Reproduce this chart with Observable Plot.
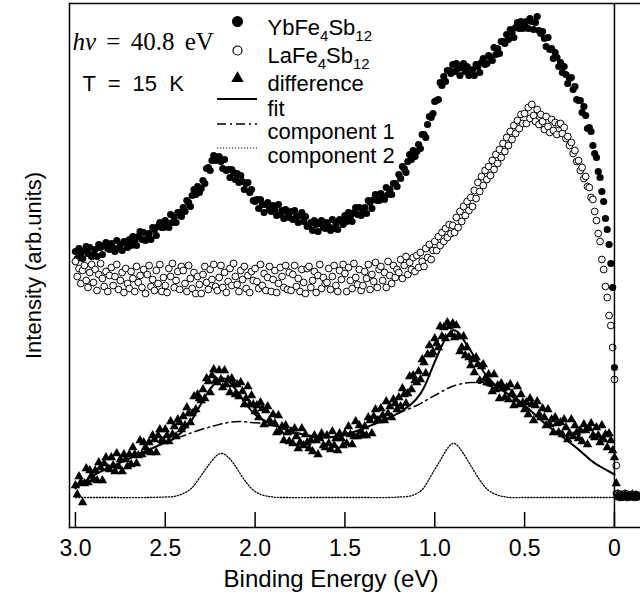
<!DOCTYPE html>
<html><head><meta charset="utf-8">
<script src="https://cdn.jsdelivr.net/npm/d3@7"></script>
<script src="https://cdn.jsdelivr.net/npm/@observablehq/plot@0.6"></script>
<style>
body{margin:0;background:#fff;}
#chart svg{display:block;}
</style></head><body><div id="chart"></div>
<script>
// Energy grid of the measurement (binding energy, eV): 3.00 down to -0.14 in 0.01 steps
const energyStart = 3.0;
const energyStep = 0.01;

// YbFe4Sb12 (filled circles), intensity in arbitrary units
const ybValues = [
276,269,279,274,269,277,281,274,280,271,
273,278,271,283,280,273,282,285,279,278,
284,280,276,287,279,283,277,286,285,280,
288,282,291,287,282,291,296,288,295,287,
289,294,288,300,298,292,301,305,300,300,
307,304,300,313,305,310,305,315,315,311,
320,316,327,325,321,332,338,333,341,335,
339,347,344,359,360,357,367,372,367,368,
371,366,359,368,357,358,350,358,355,348,
354,345,352,346,338,344,345,335,338,327,
326,328,319,328,323,315,323,325,318,316,
322,318,312,323,313,317,309,318,315,310,
316,308,317,311,305,312,315,306,311,301,
302,305,297,307,303,296,304,307,300,299,
305,301,297,308,299,304,298,308,307,303,
312,306,315,311,306,315,320,313,320,312,
315,320,314,327,325,319,328,333,327,327,
334,331,328,340,333,338,333,344,344,341,
353,349,361,359,355,366,373,368,377,371,
376,383,379,393,393,390,403,411,410,414,
426,427,428,445,442,451,446,457,457,454,
463,456,464,459,452,460,464,456,461,452,
454,458,452,463,461,455,465,469,463,464,
472,470,467,480,473,479,474,486,486,484,
493,488,498,495,490,500,505,499,506,499,
502,506,499,509,506,498,505,511,497,494,
496,489,481,490,478,479,469,475,470,461,
465,455,461,453,444,449,450,438,441,428,
427,427,415,421,412,399,400,396,382,374,
370,356,350,336,326,309,298,283,264,240,
160,34,31,33,30,32,31,33,30,32,31,33,30,32,31
];

// LaFe4Sb12 (open circles)
const laValues = [
266,251,259,244,257,262,247,240,255,263,
245,258,237,253,264,249,241,256,236,252,
260,242,251,263,238,247,255,235,259,244,
239,256,249,236,261,245,252,240,258,234,
253,262,241,248,237,257,244,263,236,250,
242,235,259,251,264,240,247,256,238,261,
257,244,236,262,249,239,255,234,251,243,
234,253,261,245,238,258,248,263,241,237,
250,262,240,255,235,246,259,242,264,251,
243,236,257,248,261,239,252,235,256,247,
259,246,239,263,242,254,237,250,261,236,
248,257,235,244,260,251,240,262,238,255,
237,253,262,241,249,236,258,245,234,259,
261,240,247,256,235,252,263,239,250,244,
245,259,238,251,262,242,236,257,248,263,
254,236,260,247,239,264,250,243,258,237,
242,256,249,263,238,253,246,265,240,258,
261,247,255,240,266,252,244,262,250,258,
255,268,249,262,271,253,265,258,270,256,
272,260,275,266,261,279,270,283,268,277,
286,277,291,282,295,286,299,290,303,294,
302,295,310,300,316,306,321,312,326,317,
330,321,337,329,345,336,351,342,357,348,
361,352,367,358,373,364,378,370,384,376,
390,382,396,388,402,394,407,399,413,404,
414,404,420,409,423,412,406,418,403,413,
406,398,411,401,395,408,397,405,393,403,
404,394,400,389,391,382,385,374,377,366,
367,357,360,349,351,341,340,330,328,316,
307,294,286,268,258,241,230,212,202,180,
148,62,34,30,33,31,34,30,32,33,31,30,33,31,32
];

// difference (filled triangles)
const diffValues = [
42,33,51,45,25,44,59,45,57,52,
48,57,47,65,60,47,64,70,59,58,
70,62,56,74,61,68,56,73,68,61,
73,63,80,73,64,72,87,73,85,80,
76,85,75,92,88,75,92,98,87,86,
98,92,86,106,93,101,91,108,105,98,
111,102,120,114,105,114,131,118,133,129,
127,138,129,149,146,135,152,158,147,145,
157,148,140,157,143,148,135,149,143,133,
143,131,145,136,123,129,141,123,132,123,
116,122,110,125,119,103,117,121,107,104,
113,104,95,112,96,101,87,102,95,86,
96,84,99,91,79,85,99,82,93,85,
79,87,76,92,87,73,89,94,82,80,
92,84,78,96,82,89,77,94,89,82,
94,84,101,93,83,91,106,91,102,96,
92,101,92,110,107,94,111,118,107,107,
119,112,107,126,114,121,110,128,124,118,
130,121,139,133,124,134,151,138,152,147,
145,156,148,168,165,154,173,182,173,175,
189,184,180,201,191,200,189,205,201,193,
204,190,202,191,176,180,191,172,180,170,
162,168,155,170,163,147,161,163,149,145,
153,144,136,153,138,142,129,144,139,130,
140,128,143,134,122,128,141,123,133,125,
118,125,113,129,123,107,122,126,113,110,
119,110,102,118,103,108,95,110,104,95,
105,93,108,100,88,94,108,91,102,95,
89,97,86,103,97,83,99,104,92,90,
100,92,85,102,88,93,80,94,87,77,
70,44,33,30,32,31,33,30,32,31,33,30,32,31,30
];

// fit (solid line)
const fitEnergy = [3.00,2.90,2.80,2.70,2.60,2.50,2.45,2.40,2.35,2.30,2.26,2.22,2.19,2.16,2.12,2.08,2.04,2.00,1.95,1.90,1.86,1.80,1.70,1.60,1.50,1.41,1.33,1.25,1.18,1.14,1.10,1.06,1.02,0.98,0.94,0.90,0.86,0.82,0.78,0.74,0.70,0.66,0.62,0.58,0.50,0.40,0.30,0.20,0.13,0.07,0.00];
const fitValues = [39,52,61,69,77,85,89,97,108,124,136,145,149,148,141,131,121,113,107,103,100,96,92,90,93,98,104,110,117,122,129,140,157,174,189,197,193,182,171,159,149,142,137,132,122,106,92,78,67,60,53];

// component 1 (dash-dot line)
const comp1Energy = [3.00,2.90,2.80,2.70,2.60,2.50,2.44,2.38,2.30,2.22,2.15,2.08,2.02,1.95,1.90,1.86,1.80,1.70,1.60,1.50,1.41,1.33,1.25,1.18,1.10,1.04,0.98,0.93,0.87,0.80,0.74,0.69,0.63,0.58,0.50,0.40,0.30,0.20,0.13,0.07,0.00];
const comp1Values = [39,52,61,69,77,85,89,93,98,102,105,106,105,104,102,100,96,92,90,93,98,104,110,116,122,128,134,139,143,145,144,141,137,132,122,106,92,78,67,60,53];

// component 2 (dotted line)
const comp2Energy = [3.00,2.80,2.60,2.50,2.45,2.40,2.35,2.30,2.26,2.22,2.19,2.16,2.12,2.08,2.04,2.00,1.95,1.90,1.85,1.60,1.40,1.25,1.20,1.15,1.10,1.06,1.02,0.98,0.94,0.90,0.86,0.82,0.78,0.74,0.70,0.66,0.62,0.58,0.50,0.30,0.10,0.00];
const comp2Values = [30,30,30,30.5,31,34,40,52,62,71,74,72,64,53,43,36,32,30.5,30,30,30,30,30.5,31,34,40,52,64,76,84,79,68,56,45,37,33,31,30,30,30,30,30];

// axis ticks
const xTicks = [3.0, 2.5, 2.0, 1.5, 1.0, 0.5, 0];
const xTickLabels = ["3.0", "2.5", "2.0", "1.5", "1.0", "0.5", "0"];
const fermiLevel = [0];

// legend
const legendLabels = ["YbFe4Sb12", "LaFe4Sb12", "difference", "fit", "component 1", "component 2"];
const conditionLabels = ["hν = 40.8 eV", "T = 15 K"];

// ---- build tables
const energies = d3.range(ybValues.length).map(i => +(energyStart - i * energyStep).toFixed(2));
const ybData = energies.map((e, i) => ({e, v: ybValues[i]}));
const laData = energies.map((e, i) => ({e, v: laValues[i]}));
const diffData = energies.map((e, i) => ({e, v: diffValues[i]}));
const fitData = fitEnergy.map((e, i) => ({e, v: fitValues[i]}));
const comp1Data = comp1Energy.map((e, i) => ({e, v: comp1Values[i]}));
const comp2Data = comp2Energy.map((e, i) => ({e, v: comp2Values[i]}));

const sans = "'Liberation Sans', Arial, Helvetica, sans-serif";
const serif = "'Liberation Serif', 'Times New Roman', serif";

const legendText = (label, dy) => Plot.text([label], {text: d => d, frameAnchor: "top-left", dx: 198, dy, textAnchor: "start", fontSize: 22, fill: "black"});

const chart = Plot.plot({
  width: 640,
  height: 609,
  marginTop: 3,
  marginBottom: 82,
  marginLeft: 69,
  marginRight: 0,
  style: {fontFamily: sans, fontSize: "22px", background: "white", color: "black", overflow: "visible"},
  x: {domain: [3.033, -0.145]},
  y: {domain: [0, 524], axis: null},
  marks: [
    Plot.dot(ybData, {x: "e", y: "v", r: 3.6, fill: "black", stroke: "none"}),
    Plot.dot(laData, {x: "e", y: "v", r: 3.4, fill: "white", stroke: "black", strokeWidth: 1}),
    Plot.dot(diffData, {x: "e", y: "v", symbol: "triangle", r: 3.5, fill: "black", stroke: "none"}),
    Plot.line(comp2Data, {x: "e", y: "v", stroke: "black", strokeWidth: 1.3, strokeDasharray: "1.2,1.8", curve: "natural"}),
    Plot.line(comp1Data, {x: "e", y: "v", stroke: "black", strokeWidth: 1.5, strokeDasharray: "9,4,2,4", curve: "natural"}),
    Plot.line(fitData, {x: "e", y: "v", stroke: "black", strokeWidth: 2, curve: "natural"}),
    Plot.ruleX(fermiLevel, {stroke: "black", strokeWidth: 1.5}),
    Plot.frame({anchor: "left", stroke: "black", strokeWidth: 1.5}),
    Plot.frame({anchor: "top", stroke: "black", strokeWidth: 1.5}),
    Plot.frame({anchor: "bottom", stroke: "black", strokeWidth: 1.5}),
    Plot.axisX(xTicks, {tickSize: 15, dy: -15, strokeWidth: 1.5, tickFormat: () => "", label: null}),
    Plot.axisX(xTicks, {tickSize: 0, tickPadding: 12, tickFormat: (d, i) => xTickLabels[i], fontSize: 23, label: null}),
    Plot.text(["Binding Energy (eV)"], {text: d => d, frameAnchor: "bottom", textAnchor: "middle", dx: -24, dy: 59, fontSize: 24}),
    Plot.text(["Intensity (arb.units)"], {text: d => d, frameAnchor: "left", textAnchor: "middle", dx: -36, rotate: -90, fontSize: 22}),
    // conditions
    Plot.text([conditionLabels[0]], {text: d => d, frameAnchor: "top-left", dx: 3, dy: 29, textAnchor: "start", fontFamily: serif, fontSize: 25}),
    Plot.text([conditionLabels[1]], {text: d => d, frameAnchor: "top-left", dx: 13, dy: 72, textAnchor: "start", fontSize: 22}),
    // legend symbols
    Plot.dot([legendLabels[0]], {frameAnchor: "top-left", dx: 168, dy: 18, r: 5.5, fill: "black"}),
    Plot.dot([legendLabels[1]], {frameAnchor: "top-left", dx: 168, dy: 47, r: 4.5, fill: "white", stroke: "black", strokeWidth: 1.2}),
    Plot.dot([legendLabels[2]], {frameAnchor: "top-left", dx: 168, dy: 75, r: 4.6, symbol: "triangle", fill: "black"}),
    legendText(legendLabels[0], 16),
    legendText(legendLabels[1], 44),
    legendText(legendLabels[2], 72),
    legendText(legendLabels[3], 97),
    legendText(legendLabels[4], 120),
    legendText(legendLabels[5], 144)
  ]
});

document.getElementById("chart").appendChild(chart);

// legend line samples
const svg = d3.select(chart);
const lg = svg.append("g").attr("fill", "none").attr("stroke", "black");
const lx1 = 217, lx2 = 257;
lg.append("line").attr("x1", lx1).attr("x2", lx2).attr("y1", 99).attr("y2", 99).attr("stroke-width", 1.8);
lg.append("line").attr("x1", lx1).attr("x2", lx2).attr("y1", 124).attr("y2", 124).attr("stroke-width", 1.5).attr("stroke-dasharray", "9,4,2,4");
lg.append("line").attr("x1", lx1).attr("x2", lx2).attr("y1", 148).attr("y2", 148).attr("stroke-width", 1.2).attr("stroke-dasharray", "1.2,1.8");

// subscripts, italics and spacing in the text labels
function rich(match, parts, wordSpacing) {
  svg.selectAll("text").filter(function () { return this.textContent === match; }).each(function () {
    const t = d3.select(this);
    if (wordSpacing) t.attr("word-spacing", wordSpacing);
    if (!parts) return;
    t.text(null);
    let shift = 0;
    for (const [s, kind] of parts) {
      const sp = t.append("tspan").text(s);
      if (kind === "sub") {
        sp.attr("font-size", 15).attr("dy", 6 - shift);
        shift = 6;
      } else {
        if (shift) sp.attr("dy", -shift);
        shift = 0;
        if (kind === "it") sp.attr("font-style", "italic");
      }
    }
  });
}
rich("YbFe4Sb12", [["YbFe"], ["4", "sub"], ["Sb"], ["12", "sub"]]);
rich("LaFe4Sb12", [["LaFe"], ["4", "sub"], ["Sb"], ["12", "sub"]]);
rich("hν = 40.8 eV", [["hν", "it"], [" = 40.8 eV"]], 4);
rich("T = 15 K", null, 6);
</script>
</body></html>
